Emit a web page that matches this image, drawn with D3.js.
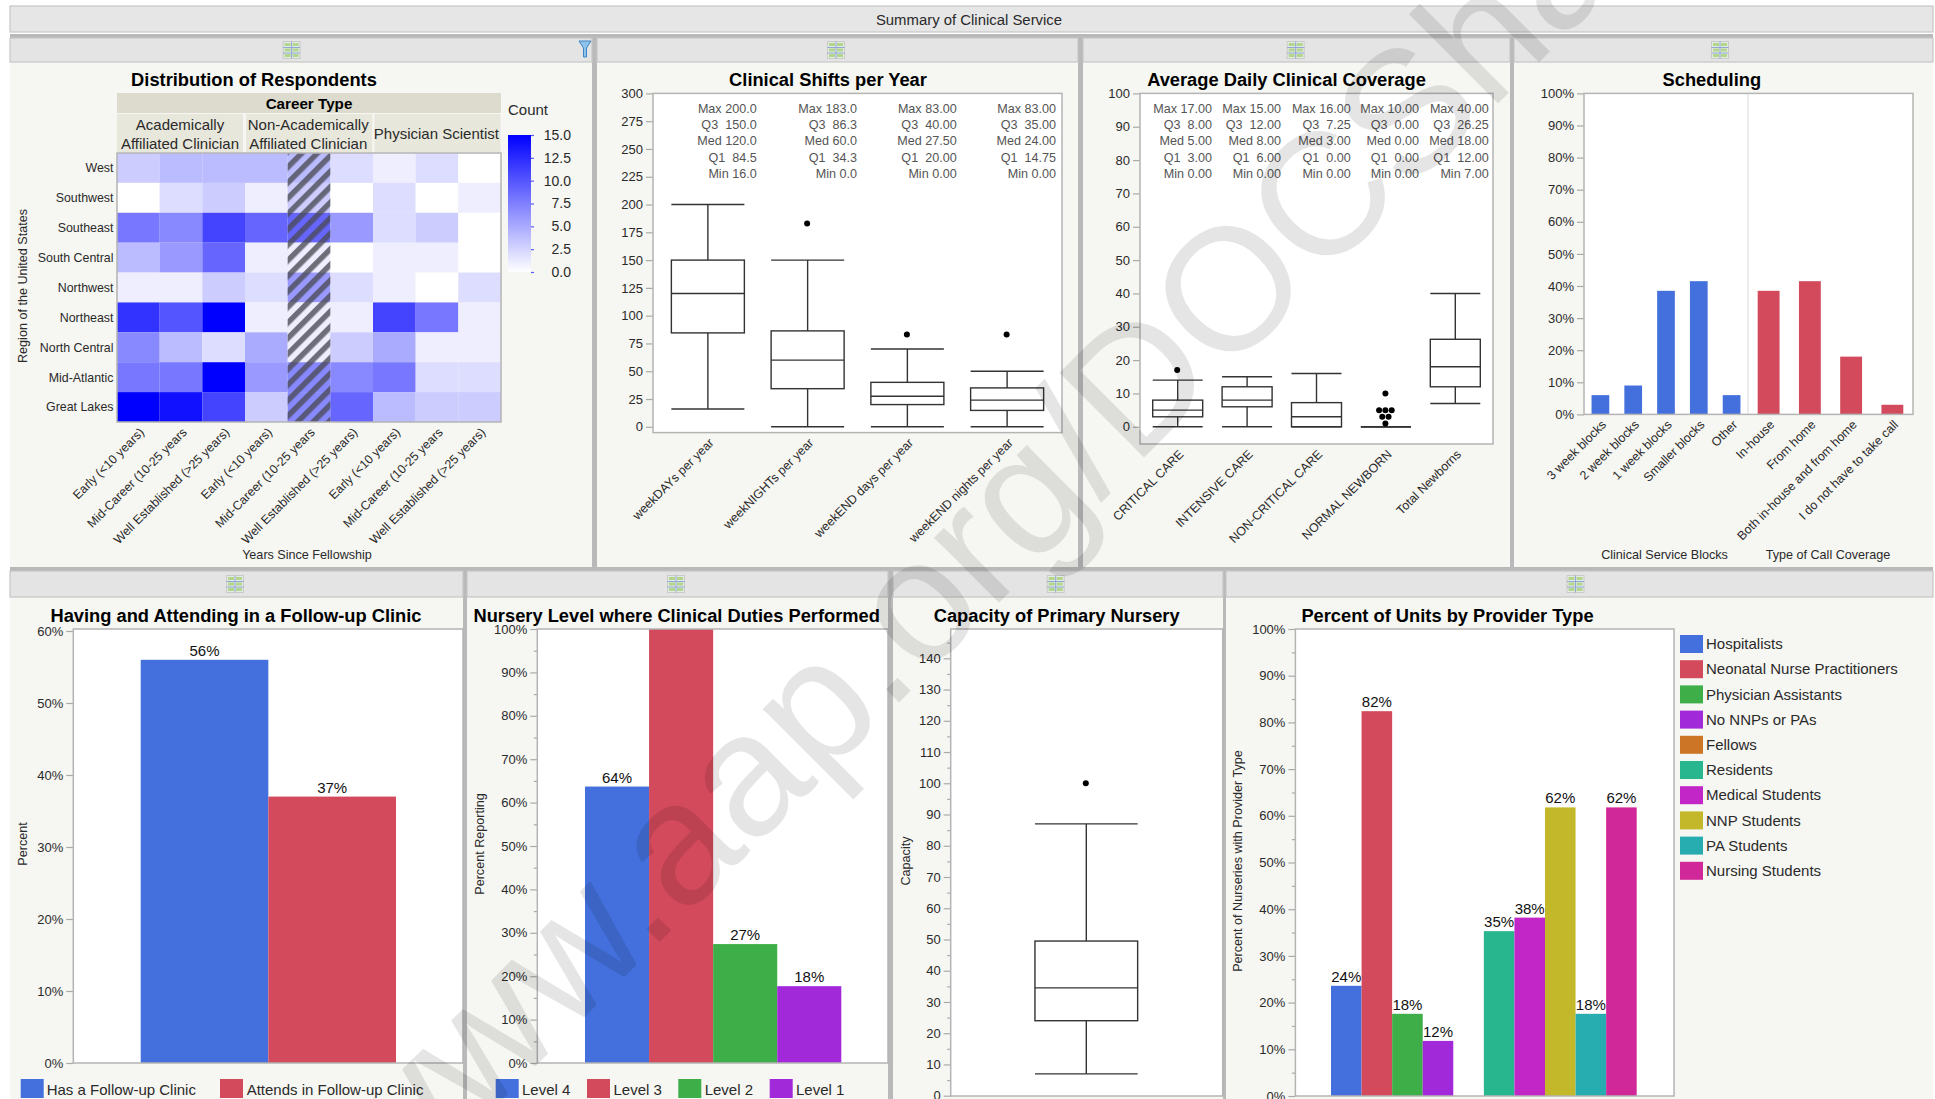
<!DOCTYPE html>
<html>
<head>
<meta charset="utf-8">
<script src="https://d3js.org/d3.v7.min.js"></script>
<style>
  html, body { margin: 0; padding: 0; background: #fff; overflow: hidden; }
  text { font-family: "Liberation Sans", Arial, sans-serif; fill: #2a2a2a; }
  .title { font-size: 18.3px; font-weight: bold; fill: #000; text-anchor: middle; }
  .lab { font-size: 12.4px; }
  .ttl { font-size: 12.6px; text-anchor: middle; }
  .stat { font-size: 12.6px; fill: #555; text-anchor: end; white-space: pre; }
  .tick text { font-family: "Liberation Sans", Arial, sans-serif; font-size: 13px; fill: #2a2a2a; }
  .tick line { stroke: #aaa; stroke-width: 1.2; }
  .val { font-size: 15px; text-anchor: middle; fill: #111; }
  .leg { font-size: 15px; }
  .mark { font-size: 174px; fill: #000; fill-opacity: 0.1; }
</style>
</head>
<body>
<svg width="1935" height="1099"></svg>
<script>
// **** Values ****

var regions = ["West", "Southwest", "Southeast", "South Central", "Northwest", "Northeast", "North Central", "Mid-Atlantic", "Great Lakes"];
var careerYears = ["Early (<10 years)", "Mid-Career (10-25 years", "Well Established (>25 years)"];
var careerTypes = [["Academically", "Affiliated Clinician"], ["Non-Academically", "Affiliated Clinician"], ["Physician Scientist"]];
var counts = [
  [3, 4, 4, 4, 4, 2, 1, 2, 0],
  [0, 2, 3, 1, 3, 0, 2, 0, 1],
  [8, 7, 11, 9, 9, 6, 2, 3, 0],
  [4, 6, 9, 1, 1, 0, 1, 1, 0],
  [1, 1, 3, 2, 6, 2, 1, 0, 2],
  [12, 10, 15, 1, 1, 1, 11, 8, 1],
  [7, 4, 2, 5, 1, 3, 5, 1, 1],
  [8, 8, 15, 6, 7, 7, 8, 2, 2],
  [15, 14, 11, 3, 7, 9, 4, 3, 3]
];
var countTicks = [0, 2.5, 5, 7.5, 10, 12.5, 15];

var shiftNames = ["weekDAYs per year", "weekNIGHTs per year", "weekEND days per year", "weekEND nights per year"];
var shiftLow = [16, 0, 0, 0];
var shiftQ1 = [84.5, 34.3, 20, 14.75];
var shiftMed = [120, 60, 27.5, 24];
var shiftQ3 = [150, 86.3, 40, 35];
var shiftHigh = [200, 150, 70, 50];
var shiftOutliers = [[], [183], [83], [83]];
var shiftStats = [
  ["Max 200.0", "Q3  150.0", "Med 120.0", "Q1  84.5", "Min 16.0"],
  ["Max 183.0", "Q3  86.3", "Med 60.0", "Q1  34.3", "Min 0.0"],
  ["Max 83.00", "Q3  40.00", "Med 27.50", "Q1  20.00", "Min 0.00"],
  ["Max 83.00", "Q3  35.00", "Med 24.00", "Q1  14.75", "Min 0.00"]
];

var coverNames = ["CRITICAL CARE", "INTENSIVE CARE", "NON-CRITICAL CARE", "NORMAL NEWBORN", "Total Newborns"];
var coverLow = [0, 0, 0, 0, 7];
var coverQ1 = [3, 6, 0, 0, 12];
var coverMed = [5, 8, 3, 0, 18];
var coverQ3 = [8, 12, 7.25, 0, 26.25];
var coverHigh = [14, 15, 16, 0, 40];
var coverOutliers = [[17], [], [], [10, 5, 5, 5, 3, 3, 1], []];
var coverStats = [
  ["Max 17.00", "Q3  8.00", "Med 5.00", "Q1  3.00", "Min 0.00"],
  ["Max 15.00", "Q3  12.00", "Med 8.00", "Q1  6.00", "Min 0.00"],
  ["Max 16.00", "Q3  7.25", "Med 3.00", "Q1  0.00", "Min 0.00"],
  ["Max 10.00", "Q3  0.00", "Med 0.00", "Q1  0.00", "Min 0.00"],
  ["Max 40.00", "Q3  26.25", "Med 18.00", "Q1  12.00", "Min 7.00"]
];

var blockNames = ["3 week blocks", "2 week blocks", "1 week blocks", "Smaller blocks", "Other"];
var blockValues = [6, 9, 38.5, 41.5, 6];
var callNames = ["In-house", "From home", "Both in-house and from home", "I do not have to take call"];
var callValues = [38.5, 41.5, 18, 3];

var clinicNames = ["Has a Follow-up Clinic", "Attends in Follow-up Clinic"];
var clinicValues = [56, 37];

var levelNames = ["Level 4", "Level 3", "Level 2", "Level 1"];
var levelValues = [63.7, 100, 27.4, 17.7];

var capacityBox = {low: 7, q1: 24, med: 34.5, q3: 49.5, high: 87};
var capacityOutliers = [100];

var providerNames = ["Hospitalists", "Neonatal Nurse Practitioners", "Physician Assistants", "No NNPs or PAs", "Fellows", "Residents", "Medical Students", "NNP Students", "PA Students", "Nursing Students"];
var providerValues = [23.6, 82.4, 17.6, 11.8, 0, 35.3, 38.2, 61.8, 17.6, 61.8];
var providerColors = ["#4370dc", "#d24a5c", "#3dae48", "#a229d9", "#cd7527", "#28b68f", "#c326c6", "#c2b829", "#27adb0", "#d02898"];

// **** Panels ****

var svg = d3.select("svg");

var defs = svg.append("defs");
var hatch = defs.append("pattern").attr("id", "hatch")
    .attr("patternUnits", "userSpaceOnUse")
    .attr("width", 11).attr("height", 11)
    .attr("patternTransform", "rotate(45)");
hatch.append("rect").attr("width", 5.5).attr("height", 11).attr("fill", "#4a4a55").attr("fill-opacity", 0.78);

var grad = defs.append("linearGradient").attr("id", "countGrad")
    .attr("x1", 0).attr("y1", 1).attr("x2", 0).attr("y2", 0);
grad.append("stop").attr("offset", "0%").attr("stop-color", "#fff");
grad.append("stop").attr("offset", "100%").attr("stop-color", "#0000ff");

function gridIcon(cx, cy) {
    var g = svg.append("g").attr("transform", "translate(" + (cx - 8.5) + "," + (cy - 8.5) + ")");
    g.append("rect").attr("width", 17).attr("height", 17).attr("fill", "#e6ebe2").attr("stroke", "#cacaca");
    [1.5, 7, 12.5].forEach(function (y) {
        [1.5, 9.5].forEach(function (x) {
            g.append("rect").attr("x", x).attr("y", y).attr("width", 6).attr("height", 3).attr("fill", "#b3d68f");
        });
    });
    g.append("line").attr("x1", 0).attr("x2", 17).attr("y1", 6).attr("y2", 6).attr("stroke", "#8ea6d8");
    g.append("line").attr("x1", 0).attr("x2", 17).attr("y1", 11.5).attr("y2", 11.5).attr("stroke", "#8ea6d8");
    g.append("line").attr("x1", 8.5).attr("x2", 8.5).attr("y1", 0).attr("y2", 17).attr("stroke", "#8ea6d8");
}

function panel(x0, x1, headY0, headY1, bottom, iconX) {
    svg.append("rect").attr("x", x0).attr("y", headY1).attr("width", x1 - x0).attr("height", bottom - headY1).attr("fill", "#f6f6f2");
    svg.append("rect").attr("x", x0).attr("y", headY0).attr("width", x1 - x0).attr("height", headY1 - headY0)
        .attr("fill", "#e4e4e4").attr("stroke", "#c6c6c6").attr("stroke-width", 1.2);
    gridIcon(iconX, (headY0 + headY1) / 2);
}

function title(text, x, y) {
    svg.append("text").attr("class", "title").attr("x", x).attr("y", y).attr("dy", "0.35em").text(text);
}

function frame(x0, x1, y0, y1) {
    svg.append("rect").attr("x", x0).attr("y", y0).attr("width", x1 - x0).attr("height", y1 - y0)
        .attr("fill", "#fff");
}

function frameLine(x0, x1, y0, y1) {
    svg.append("rect").attr("x", x0).attr("y", y0).attr("width", x1 - x0).attr("height", y1 - y0)
        .attr("fill", "none").attr("stroke", "#b4b4b4").attr("stroke-width", 1.5);
}

function yAxis(scale, x, ticks, fmt, minorTicks, size) {
    if (minorTicks) {
        svg.append("g").attr("transform", "translate(" + x + ",0)")
            .call(d3.axisLeft(scale).tickValues(minorTicks).tickSize(3.5).tickFormat(""))
            .call(function (g) { g.select(".domain").remove(); });
    }
    svg.append("g").attr("transform", "translate(" + x + ",0)")
        .call(d3.axisLeft(scale).tickValues(ticks).tickSize(size || 7).tickPadding(3).tickFormat(fmt))
        .call(function (g) { g.select(".domain").remove(); });
}

function slantLabels(names, xPos, y) {
    svg.append("g").selectAll("text").data(names).enter().append("text")
        .attr("class", "lab")
        .attr("text-anchor", "end")
        .attr("dy", "0.35em")
        .attr("transform", function (d, i) { return "translate(" + (xPos(i) + 3.5) + "," + (y + 8) + ") rotate(-45)"; })
        .text(function (d) { return d; });
}

function axisTitle(text, x, y) {
    svg.append("text").attr("class", "ttl").attr("transform", "translate(" + x + "," + y + ") rotate(-90)").attr("dy", "0.35em").text(text);
}

function boxes(xBand, yScale, low, q1, med, q3, high, boxW) {
    var data = d3.range(low.length);
    var g = svg.append("g").attr("stroke", "#333").attr("stroke-width", 1.4).attr("fill", "none");
    data.forEach(function (i) {
        var cx = xBand(i) + xBand.bandwidth() / 2;
        g.append("line").attr("x1", cx).attr("x2", cx).attr("y1", yScale(low[i])).attr("y2", yScale(q1[i]));
        g.append("line").attr("x1", cx).attr("x2", cx).attr("y1", yScale(q3[i])).attr("y2", yScale(high[i]));
        g.append("line").attr("x1", cx - boxW / 2).attr("x2", cx + boxW / 2).attr("y1", yScale(low[i])).attr("y2", yScale(low[i]));
        g.append("line").attr("x1", cx - boxW / 2).attr("x2", cx + boxW / 2).attr("y1", yScale(high[i])).attr("y2", yScale(high[i]));
        g.append("rect").attr("x", cx - boxW / 2).attr("width", boxW).attr("y", yScale(q3[i])).attr("height", yScale(q1[i]) - yScale(q3[i]));
        g.append("line").attr("x1", cx - boxW / 2).attr("x2", cx + boxW / 2).attr("y1", yScale(med[i])).attr("y2", yScale(med[i]));
    });
}

function statBlock(stats, xPos) {
    var lineY = [109, 125, 141, 157.4, 173.4];
    stats.forEach(function (lines, i) {
        lines.forEach(function (t, j) {
            svg.append("text").attr("class", "stat").attr("x", xPos[i]).attr("y", lineY[j]).attr("dy", "0.35em").text(t);
        });
    });
}

function valueBars(names, values, colors, xBand, yScale, labels) {
    svg.append("g").selectAll("rect").data(names).enter().append("rect")
        .attr("x", function (d) { return xBand(d); })
        .attr("width", xBand.bandwidth())
        .attr("y", function (d, i) { return yScale(values[i]); })
        .attr("height", function (d, i) { return yScale(0) - yScale(values[i]); })
        .attr("fill", function (d, i) { return colors[i % colors.length]; });
    if (labels) {
        var shown = names.filter(function (d, i) { return values[i] > 0 && values[i] < 100; });
        svg.append("g").selectAll("text").data(shown).enter().append("text")
            .attr("class", "val")
            .attr("x", function (d) { return xBand(d) + xBand.bandwidth() / 2; })
            .attr("y", function (d) { return yScale(values[names.indexOf(d)]) - 4; })
            .text(function (d) { return Math.round(values[names.indexOf(d)]) + "%"; });
    }
}

function bottomLegend(names, swatchX, textX, colors) {
    names.forEach(function (n, i) {
        svg.append("rect").attr("x", swatchX[i]).attr("y", 1079).attr("width", 23).attr("height", 19).attr("fill", colors[i]);
        svg.append("text").attr("class", "leg").attr("x", textX[i]).attr("y", 1089.5).attr("dy", "0.35em").text(n);
    });
}

// top strip
svg.append("rect").attr("x", 10).attr("y", 6).attr("width", 1923).attr("height", 26).attr("fill", "#e6e6e6").attr("stroke", "#c6c6c6").attr("stroke-width", 1.2);
svg.append("text").attr("x", 969).attr("y", 19.5).attr("dy", "0.35em").attr("text-anchor", "middle").style("font-size", "14.9px").text("Summary of Clinical Service");

// dark dividers behind the panels
svg.append("rect").attr("x", 10).attr("y", 34).attr("width", 1923).attr("height", 1065).attr("fill", "#b9b9b9");

panel(10, 592, 38, 62, 567, 291.6);
panel(597, 1078, 38, 62, 567, 836);
panel(1083, 1510, 38, 62, 567, 1295.7);
panel(1514, 1933, 38, 62, 567, 1720);
panel(10, 463, 571, 597, 1099, 235);
panel(467, 888, 571, 597, 1099, 676);
panel(893, 1223, 571, 597, 1099, 1055.7);
panel(1226, 1933, 571, 597, 1099, 1575.5);

// filter icon
svg.append("path").attr("d", "M579,41 h12 l-4.5,7 v9 h-3 v-9 z").attr("fill", "#8ec3ea").attr("stroke", "#3f84c5").attr("stroke-width", 1);

// **** Distribution of Respondents ****
title("Distribution of Respondents", 254, 80);
svg.append("rect").attr("x", 117).attr("y", 93).attr("width", 384).attr("height", 20).attr("fill", "#dcdbcd");
svg.append("text").attr("x", 309).attr("y", 103.5).attr("dy", "0.35em").attr("text-anchor", "middle")
    .style("font-size", "15.2px").style("font-weight", "bold").style("fill", "#000").text("Career Type");
careerTypes.forEach(function (lines, i) {
    var sx = 117 + i * 128.2;
    svg.append("rect").attr("x", sx + (i ? 1 : 0)).attr("y", 114).attr("width", 126).attr("height", 38).attr("fill", "#e8e7dc");
    lines.forEach(function (l, j) {
        var cy = 134 + (j - (lines.length - 1) / 2) * 19;
        svg.append("text").attr("x", sx + 63).attr("y", cy).attr("dy", "0.35em").attr("text-anchor", "middle")
            .style("font-size", "15px").text(l);
    });
});

var heatX = d3.scaleBand().domain(d3.range(9)).range([117, 501]);
var heatY = d3.scaleBand().domain(regions).range([153, 422]);
var heatColor = d3.scaleLinear().domain([0, 15]).range(["#ffffff", "#0000ff"]);
counts.forEach(function (row, r) {
    svg.append("g").selectAll("rect").data(row).enter().append("rect")
        .attr("x", function (d, c) { return heatX(c); })
        .attr("y", heatY(regions[r]))
        .attr("width", heatX.bandwidth())
        .attr("height", heatY.bandwidth())
        .attr("fill", function (d) { return heatColor(d); });
});
svg.append("rect").attr("x", heatX(4)).attr("y", 153).attr("width", heatX.bandwidth()).attr("height", 269).attr("fill", "url(#hatch)");
frameLine(117, 501, 153, 422);
svg.append("g").selectAll("text").data(regions).enter().append("text")
    .attr("class", "lab").attr("text-anchor", "end").attr("x", 113.5)
    .attr("y", function (d) { return heatY(d) + heatY.bandwidth() / 2; })
    .attr("dy", "0.35em").text(function (d) { return d; });
axisTitle("Region of the United States", 23, 286);
var yearLabels = [].concat(careerYears, careerYears, careerYears);
slantLabels(yearLabels, function (i) { return heatX(i) + heatX.bandwidth() / 2; }, 422);
svg.append("text").attr("class", "ttl").attr("x", 307).attr("y", 555).attr("dy", "0.35em").text("Years Since Fellowship");
svg.append("text").attr("x", 508).attr("y", 110).attr("dy", "0.35em").style("font-size", "15px").text("Count");
svg.append("rect").attr("x", 508).attr("y", 135).attr("width", 23).attr("height", 137).attr("fill", "url(#countGrad)");
var countY = d3.scaleLinear().domain([0, 15]).range([272, 135]);
svg.append("g").attr("transform", "translate(531,0)")
    .call(d3.axisRight(countY).tickValues(countTicks).tickSize(3).tickFormat(d3.format(".1f")))
    .call(function (g) {
        g.select(".domain").remove();
        g.selectAll("line").style("stroke", "#5a5aff");
        g.selectAll("text").attr("x", 40).attr("text-anchor", "end").style("font-size", "14px");
    });

// **** Clinical Shifts per Year ****
title("Clinical Shifts per Year", 828, 80);
frame(653, 1062, 93.4, 432.6);
var shiftX = d3.scaleBand().domain(d3.range(4)).range([658, 1057]);
var shiftY = d3.scaleLinear().domain([0, 300]).range([426.8, 93.4]);
yAxis(shiftY, 653, d3.range(0, 301, 25), d3.format("d"));
statBlock(shiftStats, [756.7, 857, 956.7, 1056]);
boxes(shiftX, shiftY, shiftLow, shiftQ1, shiftMed, shiftQ3, shiftHigh, 73);
shiftOutliers.forEach(function (vals, i) {
    svg.append("g").selectAll("circle").data(vals).enter().append("circle")
        .attr("cx", shiftX(i) + shiftX.bandwidth() / 2 - 0.5).attr("cy", function (d) { return shiftY(d); }).attr("r", 3).attr("fill", "#000");
});
frameLine(653, 1062, 93.4, 432.6);
slantLabels(shiftNames, function (i) { return shiftX(i) + shiftX.bandwidth() / 2; }, 432.6);

// **** Average Daily Clinical Coverage ****
title("Average Daily Clinical Coverage", 1286.5, 80);
frame(1140, 1493, 93.4, 444);
var coverX = d3.scaleBand().domain(d3.range(5)).range([1143, 1490]);
var coverY = d3.scaleLinear().domain([0, 100]).range([426.8, 93.4]);
yAxis(coverY, 1140, d3.range(0, 101, 10), d3.format("d"));
statBlock(coverStats, [1212, 1281, 1350.7, 1419, 1488.7]);
boxes(coverX, coverY, coverLow, coverQ1, coverMed, coverQ3, coverHigh, 50);
coverOutliers.forEach(function (vals, i) {
    // points at the same value sit side by side, as JMP stacks them
    var seen = d3.rollup(vals, function (v) { return v.length; }, function (d) { return d; });
    var used = {};
    vals.forEach(function (v) {
        used[v] = (used[v] || 0) + 1;
        var n = seen.get(v);
        svg.append("circle")
            .attr("cx", coverX(i) + coverX.bandwidth() / 2 - 0.5 + (used[v] - (n + 1) / 2) * 6.3)
            .attr("cy", coverY(v)).attr("r", 3).attr("fill", "#000");
    });
});
frameLine(1140, 1493, 93.4, 444);
slantLabels(coverNames, function (i) { return coverX(i) + coverX.bandwidth() / 2; }, 444);

// **** Scheduling ****
title("Scheduling", 1711.8, 80);
frame(1584, 1913, 93.4, 414.4);
var schedY = d3.scaleLinear().domain([0, 100]).range([414.4, 93.4]);
yAxis(schedY, 1584, d3.range(0, 101, 10), function (d) { return d + "%"; });
var blockX = d3.scaleBand().domain(blockNames).range([1584, 1748]).paddingInner(0.46).paddingOuter(0.23);
var callX = d3.scaleBand().domain(callNames).range([1748, 1913]).paddingInner(0.47).paddingOuter(0.235);
valueBars(blockNames, blockValues, ["#4370dc"], blockX, schedY);
valueBars(callNames, callValues, ["#d24a5c"], callX, schedY);
svg.append("line").attr("x1", 1748).attr("x2", 1748).attr("y1", 93.4).attr("y2", 414.4).attr("stroke", "#dedede").attr("stroke-width", 1.2);
frameLine(1584, 1913, 93.4, 414.4);
slantLabels(blockNames, function (i) { return blockX(blockNames[i]) + blockX.bandwidth() / 2; }, 414.4);
slantLabels(callNames, function (i) { return callX(callNames[i]) + callX.bandwidth() / 2; }, 414.4);
svg.append("text").attr("class", "ttl").attr("x", 1664.5).attr("y", 555).attr("dy", "0.35em").text("Clinical Service Blocks");
svg.append("text").attr("class", "ttl").attr("x", 1828).attr("y", 555).attr("dy", "0.35em").text("Type of Call Coverage");

// **** Having and Attending in a Follow-up Clinic ****
title("Having and Attending in a Follow-up Clinic", 236, 615.5);
frame(73.3, 463, 629, 1063);
var clinicY = d3.scaleLinear().domain([0, 60]).range([1063, 631]);
yAxis(clinicY, 73.3, d3.range(0, 61, 10), function (d) { return d + "%"; });
var clinicX = d3.scaleBand().domain(clinicNames).range([140.7, 396]);
valueBars(clinicNames, clinicValues, ["#4370dc", "#d24a5c"], clinicX, clinicY, true);
frameLine(73.3, 463, 629, 1063);
axisTitle("Percent", 22.7, 844);
bottomLegend(clinicNames, [20.7, 220], [46.7, 246.7], ["#4370dc", "#d24a5c"]);

// **** Nursery Level where Clinical Duties Performed ****
title("Nursery Level where Clinical Duties Performed", 676.7, 615.5);
frame(537.3, 888, 629, 1063);
var levelY = d3.scaleLinear().domain([0, 100]).range([1063, 629]);
yAxis(levelY, 537.3, d3.range(0, 101, 10), function (d) { return d + "%"; }, d3.range(5, 100, 10));
var levelX = d3.scaleBand().domain(levelNames).range([585, 841.3]);
var levelColors = ["#4370dc", "#d24a5c", "#3dae48", "#a229d9"];
valueBars(levelNames, levelValues, levelColors, levelX, levelY, true);
frameLine(537.3, 888, 629, 1063);
axisTitle("Percent Reporting", 480, 844);
bottomLegend(levelNames, [495.7, 587, 678.3, 769.7], [522, 613.5, 704.7, 796], levelColors);

// **** Capacity of Primary Nursery ****
title("Capacity of Primary Nursery", 1056.7, 615.5);
frame(950.7, 1222.7, 629, 1096);
var capY = d3.scaleLinear().domain([0, 140]).range([1095.7, 658.3]);
yAxis(capY, 950.7, d3.range(0, 141, 10), d3.format("d"), d3.range(5, 150, 10));
var capX = d3.scaleBand().domain([0]).range([1035, 1137.6]);
boxes(capX, capY, [capacityBox.low], [capacityBox.q1], [capacityBox.med], [capacityBox.q3], [capacityBox.high], 102.7);
svg.append("g").selectAll("circle").data(capacityOutliers).enter().append("circle")
    .attr("cx", capX(0) + capX.bandwidth() / 2 - 0.5).attr("cy", function (d) { return capY(d); }).attr("r", 3).attr("fill", "#000");
frameLine(950.7, 1222.7, 629, 1096);
axisTitle("Capacity", 905.7, 861);

// **** Percent of Units by Provider Type ****
title("Percent of Units by Provider Type", 1447.5, 615.5);
frame(1295.4, 1674, 629, 1096);
var provY = d3.scaleLinear().domain([0, 100]).range([1096, 629]);
yAxis(provY, 1295.4, d3.range(0, 101, 10), function (d) { return d + "%"; }, d3.range(5, 100, 10));
var provX = d3.scaleBand().domain(providerNames).range([1331, 1636.7]);
valueBars(providerNames, providerValues, providerColors, provX, provY, true);
frameLine(1295.4, 1674, 629, 1096);
axisTitle("Percent of Nurseries with Provider Type", 1238, 861);
providerNames.forEach(function (n, i) {
    svg.append("rect").attr("x", 1680).attr("y", 635 + i * 25.2).attr("width", 23).attr("height", 18).attr("fill", providerColors[i]);
    svg.append("text").attr("class", "leg").attr("x", 1706).attr("y", 644 + i * 25.2).attr("dy", "0.35em").text(n);
});

// **** Watermark across the whole page ****
svg.append("text").attr("class", "mark")
    .attr("transform", "translate(388.6,1213) rotate(-45)")
    .text("www.aap.org/DOCShare");
</script>
</body>
</html>
